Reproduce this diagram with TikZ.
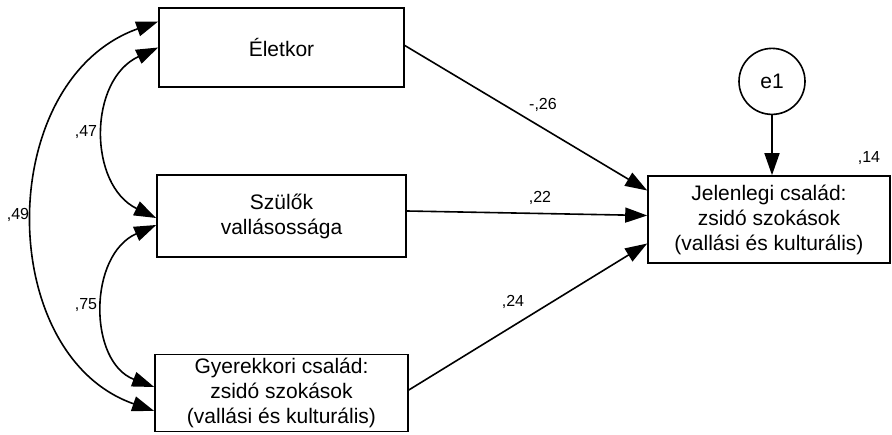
\documentclass[tikz,border=0pt]{standalone}
\usepackage{fontspec}
\setmainfont{Liberation Sans}
\usepackage{tikz}
\usetikzlibrary{arrows.meta,calc,positioning}
\tikzstyle{var}=[draw,line width=1.6pt,align=center,inner sep=0,font=\fontsize{21}{25}\selectfont]
\tikzstyle{err}=[draw,circle,line width=1.6pt,minimum size=66pt,inner sep=0,font=\fontsize{21}{25}\selectfont]
\tikzstyle{coef}=[inner sep=0,font=\fontsize{16}{19}\selectfont]
\tikzstyle{reg}=[->,line width=1.6pt]
\tikzstyle{cov}=[<->,line width=1.6pt]

\begin{document}
\begin{tikzpicture}[x=1pt,y=-1pt,>={Triangle[length=22pt,width=15pt]}]
  \useasboundingbox (0,0) rectangle (892,435);
  	\node[var,minimum width=245pt,minimum height=79pt] (eletkor) at (281.5,47.5) {Életkor};
  	\node[var,minimum width=249pt,minimum height=82pt] (szulok) at (281.5,216) {Szülők\\vallásossága};
  	\node[var,minimum width=253pt,minimum height=77pt] (gyerek) at (281.5,393) {Gyerekkori család:\\zsidó szokások\\(vallási és kulturális)};
  	\node[var,minimum width=242pt,minimum height=87pt] (jelen) at (769,219.5) {Jelenlegi család:\\zsidó szokások\\(vallási és kulturális)};
  	\node[err,above=60pt of jelen.north,anchor=south,xshift=3pt] (e1) {e1};
  	% regressziok
  	\draw[reg] ($(eletkor.east)+(0,-2)$) -- ($(jelen.west)+(0,-29)$);
  	\draw[reg] ($(szulok.east)+(0,-5)$) -- ($(jelen.west)+(0,-4)$);
  	\draw[reg] ($(gyerek.east)+(0,-3)$) -- ($(jelen.west)+(0,24)$);
  	\draw[reg] (e1) -- (e1 |- jelen.north);
  	% kovarianciak
  	\draw[cov] ($(eletkor.west)+(0,-26)$) .. controls (-6,80) and (-6,355) .. ($(gyerek.west)+(0,18)$);
  	\draw[cov] (eletkor.west) .. controls (88,80) and (88,185) .. ($(szulok.west)+(0,2)$);
  	\draw[cov] ($(szulok.west)+(0,9)$) .. controls (88,255) and (88,362) .. ($(gyerek.west)+(0,-6)$);
  	% egyutthatok
  	\node[coef] (c49) at (18,215) {,49};
  	\node[coef] (c47) at (86,132) {,47};
  	\node[coef] (c75) at (86,305) {,75};
  	\node[coef] (c26) at (543,105) {-,26};
  	\node[coef] (c22) at (540,198) {,22};
  	\node[coef] (c24) at (513,302) {,24};
  	\node[coef] (c14) at (869,158) {,14};
\end{tikzpicture}
\end{document}
